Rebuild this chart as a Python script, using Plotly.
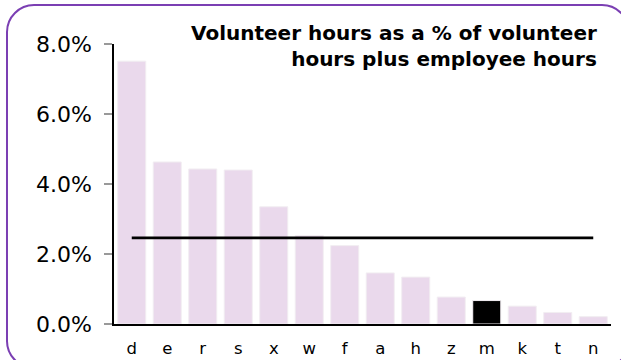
import plotly.graph_objects as go

# Volunteer hours share by unit, sorted descending
categories = ["d", "e", "r", "s", "x", "w", "f", "a", "h", "z", "m", "k", "t", "n"]
volunteer_pct = [7.51, 4.63, 4.43, 4.40, 3.35, 2.53, 2.24, 1.46, 1.34, 0.77, 0.67, 0.51, 0.33, 0.21]
highlight = "m"
average_pct = 2.46
y_ticks = [0, 2, 4, 6, 8]

W, H = 621, 360
ML, MR, MT, MB = 114, 10, 44, 36
PW, PH = W - ML - MR, H - MT - MB


def px(x):
    return (x - ML) / PW


def py(y):
    return (H - MB - y) / PH


bar_colors = ["#000000" if c == highlight else "#ead9ec" for c in categories]

fig = go.Figure()
fig.add_trace(go.Bar(
    x=categories, y=volunteer_pct,
    marker=dict(color=bar_colors, line=dict(color="#f2eef2", width=1)),
    width=0.79, hoverinfo="x+y",
))
fig.add_trace(go.Scatter(
    x=[categories[0], categories[-1]], y=[average_pct, average_pct],
    mode="lines", line=dict(color="#000000", width=2.6), hoverinfo="y",
))

# Rounded purple frame (extends past the right and bottom edges)
x0, x1, y0, y1, r = 7, 629, 5, 368, 27
k = 0.45
path = (
    f"M {px(x0)},{py(y0 + r)} "
    f"C {px(x0)},{py(y0 + r * k)} {px(x0 + r * k)},{py(y0)} {px(x0 + r)},{py(y0)} "
    f"L {px(x1 - r)},{py(y0)} "
    f"C {px(x1 - r * k)},{py(y0)} {px(x1)},{py(y0 + r * k)} {px(x1)},{py(y0 + r)} "
    f"L {px(x1)},{py(y1 - r)} "
    f"C {px(x1)},{py(y1 - r * k)} {px(x1 - r * k)},{py(y1)} {px(x1 - r)},{py(y1)} "
    f"L {px(x0 + r)},{py(y1)} "
    f"C {px(x0 + r * k)},{py(y1)} {px(x0)},{py(y1 - r * k)} {px(x0)},{py(y1 - r)} Z"
)
fig.add_shape(type="path", path=path, xref="paper", yref="paper",
              line=dict(color="#7b3fb3", width=2), fillcolor="rgba(0,0,0,0)", layer="above")

fig.add_annotation(
    text="Volunteer hours as a % of volunteer<br>hours plus employee hours",
    xref="paper", yref="paper", x=px(599), y=py(19),
    xanchor="right", yanchor="top", align="right", showarrow=False,
    font=dict(family="DejaVu Sans", size=20, color="#000000", weight="bold"),
)

fig.update_layout(
    width=W, height=H,
    margin=dict(l=ML, r=MR, t=MT, b=MB, autoexpand=False),
    paper_bgcolor="white", plot_bgcolor="white",
    showlegend=False, bargap=0.21,
    font=dict(family="DejaVu Sans", color="#000000"),
)
fig.update_xaxes(
    type="category", showgrid=False, showline=True, linecolor="#000000", linewidth=1.5,
    ticks="", tickfont=dict(size=16.5), ticklabelstandoff=8, fixedrange=True, automargin=False,
)
fig.update_yaxes(
    range=[0, 8], tickvals=y_ticks, ticktext=[f"{v:.1f}%" for v in y_ticks],
    showgrid=False, zeroline=False, showline=True, linecolor="#000000", linewidth=1.5,
    ticks="outside", ticklen=8, tickcolor="#999999", tickwidth=1.5,
    tickfont=dict(size=22), ticklabelstandoff=8, fixedrange=True, automargin=False,
)

fig.write_html("out.html")
